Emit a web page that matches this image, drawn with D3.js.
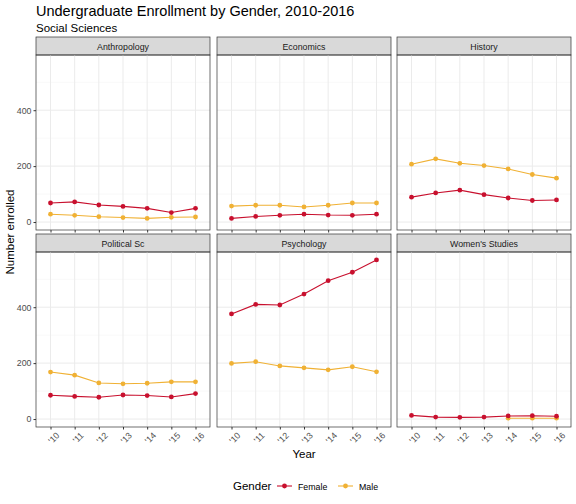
<!DOCTYPE html>
<html><head><meta charset="UTF-8">
<script src="https://d3js.org/d3.v7.min.js"></script>
<style>body{margin:0}svg{font-family:"Liberation Sans",Arial,sans-serif}</style>
</head><body><div id="chart"></div>
<script>
const years = ["'10","'11","'12","'13","'14","'15","'16"];
const majors = ["Anthropology","Economics","History","Political Sc","Psychology","Women's Studies"];
const female = [
  [68,72,61,56,49,34,49],
  [13,20,24,28,25,24,28],
  [89,104,114,98,86,77,79],
  [85,81,78,86,84,79,91],
  [376,410,408,447,495,525,569],
  [13,7,6,7,11,12,10]
];
const male = [
  [28,24,19,16,13,17,18],
  [57,60,60,54,60,68,68],
  [207,226,210,202,190,170,157],
  [168,157,129,126,128,133,133],
  [199,205,190,183,176,187,169],
  [null,null,null,null,3,3,3]
];
const yTicks = [0,200,400];
const colors = {Female:"#c8102e", Male:"#f0b134"};

const svg = d3.select("#chart").append("svg").attr("width",576).attr("height",504);
svg.append("rect").attr("width",576).attr("height",504).attr("fill","#fff");
svg.append("text").attr("x",36).attr("y",16).attr("font-size",14.5).text("Undergraduate Enrollment by Gender, 2010-2016");
svg.append("text").attr("x",36).attr("y",32).attr("font-size",11.5).text("Social Sciences");

const colX = [36,217,397], pw = 174;
const rowY = [37,234], sh = 18, ph = 175;
const x = d3.scalePoint().domain(years).range([0,pw]).padding(0.6);
const y = d3.scaleLinear().domain([-28.5,597.5]).range([ph,0]);

majors.forEach((m,i)=>{
  const c=i%3, r=Math.floor(i/3);
  const g = svg.append("g").attr("transform",`translate(${colX[c]},${rowY[r]})`);
  g.append("rect").attr("width",pw).attr("height",sh).attr("fill","#d9d9d9").attr("stroke","#333").attr("stroke-width",0.7);
  g.append("text").attr("x",pw/2).attr("y",sh/2+3.5).attr("text-anchor","middle").attr("font-size",8.8).attr("fill","#1a1a1a").text(m);
  const p = g.append("g").attr("transform",`translate(0,${sh})`);
  [100,300,500].forEach(v=>p.append("line").attr("x1",0).attr("x2",pw).attr("y1",y(v)).attr("y2",y(v)).attr("stroke","#f0f0f0").attr("stroke-width",0.5));
  yTicks.forEach(v=>p.append("line").attr("x1",0).attr("x2",pw).attr("y1",y(v)).attr("y2",y(v)).attr("stroke","#ebebeb").attr("stroke-width",1));
  years.forEach(v=>p.append("line").attr("x1",x(v)).attr("x2",x(v)).attr("y1",0).attr("y2",ph).attr("stroke","#ebebeb").attr("stroke-width",1));
  [["Male",male[i]],["Female",female[i]]].forEach(([k,vals])=>{
    const pts = years.map((yr,j)=>({yr,v:vals[j]})).filter(d=>d.v!=null);
    p.append("path").attr("d",d3.line().x(d=>x(d.yr)).y(d=>y(d.v))(pts)).attr("fill","none").attr("stroke",colors[k]).attr("stroke-width",1.1);
    p.selectAll(null).data(pts).enter().append("circle").attr("cx",d=>x(d.yr)).attr("cy",d=>y(d.v)).attr("r",2.4).attr("fill",colors[k]);
  });
  p.append("rect").attr("width",pw).attr("height",ph).attr("fill","none").attr("stroke","#333").attr("stroke-width",0.7);
  if(c===0){
    const ax = p.append("g").call(d3.axisLeft(y).tickValues(yTicks).tickSize(2.5).tickPadding(2));
    ax.select(".domain").remove();
    ax.selectAll("line").attr("stroke","#333");
    ax.selectAll("text").attr("font-size",8.8).attr("fill","#4d4d4d").style("font-family","Liberation Sans, Arial");
  }
  if(r===1){
    const ax = p.append("g").attr("transform",`translate(0,${ph})`).call(d3.axisBottom(x).tickSize(2.5).tickPadding(2));
    ax.select(".domain").remove();
    ax.selectAll("line").attr("stroke","#333");
    ax.selectAll("text").attr("font-size",8.8).attr("fill","#4d4d4d").style("font-family","Liberation Sans, Arial")
      .attr("text-anchor","end").attr("dy","0.3em").attr("transform","translate(4,4) rotate(-45)");
  } else {
    const ax = p.append("g").attr("transform",`translate(0,${ph})`).call(d3.axisBottom(x).tickSize(2.5).tickFormat(""));
    ax.select(".domain").remove(); ax.selectAll("line").attr("stroke","#333");
  }
});

svg.append("text").attr("transform","translate(14,232) rotate(-90)").attr("text-anchor","middle").attr("font-size",11.5).text("Number enrolled");
svg.append("text").attr("x",304).attr("y",458).attr("text-anchor","middle").attr("font-size",11.5).text("Year");

const lg = svg.append("g").attr("transform","translate(0,486)");
lg.append("text").attr("x",233).attr("y",4).attr("font-size",11.5).text("Gender");
[["Female",277],["Male",338]].forEach(([k,lx])=>{
  lg.append("line").attr("x1",lx).attr("x2",lx+15).attr("stroke",colors[k]).attr("stroke-width",1.1);
  lg.append("circle").attr("cx",lx+7.5).attr("r",2.4).attr("fill",colors[k]);
  lg.append("text").attr("x",lx+21).attr("y",3.5).attr("font-size",8.8).text(k);
});
</script></body></html>
